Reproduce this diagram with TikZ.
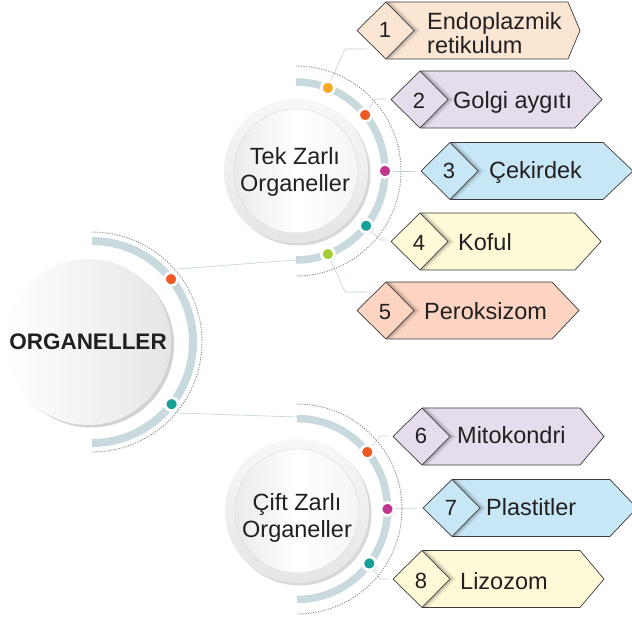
\documentclass[tikz,border=0pt]{standalone}
\usepackage{fontspec}
\setmainfont{Liberation Sans}
\usetikzlibrary{shadows,calc}
\definecolor{txt}{HTML}{231F20}
\definecolor{bandc}{HTML}{C9DADE}
\definecolor{connc}{HTML}{C2D3D8}
\definecolor{dotline}{HTML}{8E8E8E}
\definecolor{boxline}{HTML}{3C3C3C}
\definecolor{cPeach}{HTML}{FBE6D4}
\definecolor{cLav}{HTML}{E5DCEC}
\definecolor{cBlue}{HTML}{C7E7F7}
\definecolor{cYel}{HTML}{FEF9D6}
\definecolor{cSal}{HTML}{FCD4C1}
\definecolor{dOrY}{HTML}{F7A823}
\definecolor{dOr}{HTML}{EF5A24}
\definecolor{dMag}{HTML}{C1358E}
\definecolor{dTeal}{HTML}{17A096}
\definecolor{dLime}{HTML}{A6CE39}
\tikzset{
  band/.style={draw=bandc, line width=7.5pt},
  dotarc/.style={draw=dotline, line width=0.9pt, dash pattern=on 1.2pt off 1.3pt},
  conn/.style={draw=connc, line width=0.6pt},
  dotnode/.style={circle, draw=white, line width=2.8pt, minimum size=13pt, inner sep=0pt,
     drop shadow={shadow xshift=1.4pt, shadow yshift=-1.4pt, opacity=0.35}},
  numtext/.style={text=txt, font=\fontsize{22}{24}\selectfont, inner sep=0pt, anchor=base},
  labtext/.style={text=txt, font=\fontsize{23.5}{24}\selectfont, inner sep=0pt, anchor=base west},
  circtext/.style={text=txt, font=\fontsize{23.5}{27}\selectfont, inner sep=0pt, align=center},
  ringdisk/.style={circle, minimum size=144pt, inner sep=0pt, top color=gray!6, bottom color=gray!20,
     drop shadow={shadow xshift=2.5pt, shadow yshift=-2.5pt, opacity=0.3}},
  innerdisk/.style={circle, minimum size=124pt, inner sep=0pt, left color=gray!16, right color=gray!8,
     middle color=white, draw=gray!30, line width=0.4pt}
}
% #1 name, #2 tip x, #3 mid y, #4 right corner x, #5 right tip x, #6 colour, #7 number, #8 number baseline
\newcommand\orgbox[8]{%
  \fill[#6] (#2,#3) -- ({#2+29},{#3-28.5}) -- (#4,{#3-28.5}) -- (#5,#3) -- (#4,{#3+28.5}) -- ({#2+29},{#3+28.5}) -- cycle;
  \begin{scope}
    \clip (#2,#3) -- ({#2+29},{#3-28.5}) -- (#4,{#3-28.5}) -- (#5,#3) -- (#4,{#3+28.5}) -- ({#2+29},{#3+28.5}) -- cycle;
    \foreach \k/\o in {1/0.16,2/0.12,3/0.09,4/0.06,5/0.04,6/0.02}
      \draw[black, opacity=\o, line width=1.1pt] ({#2+29+\k},{#3-28.5}) -- ({#2+57+\k},#3) -- ({#2+29+\k},{#3+28.5});
  \end{scope}
  \draw[boxline, line width=0.7pt, line join=round] (#2,#3) -- ({#2+29},{#3-28.5}) -- (#4,{#3-28.5}) -- (#5,#3) -- (#4,{#3+28.5}) -- ({#2+29},{#3+28.5}) -- cycle;
  \draw[boxline, line width=0.7pt] ({#2+29},{#3-28.5}) -- ({#2+57},#3) -- ({#2+29},{#3+28.5});
  \node[numtext] (#1n) at ({#2+28},#8) {#7};
}
\begin{document}
\begin{tikzpicture}[x=1pt,y=-1pt]
\useasboundingbox[fill=white] (0,0) rectangle (632,617);

% centres
\coordinate (mainc) at (92,342);
\coordinate (tekc) at (296,171);
\coordinate (ciftc) at (297,509);

% dot positions
\coordinate (m1) at ($(mainc)+(38.5:101pt)$);
\coordinate (m2) at ($(mainc)+(-38:101pt)$);
\coordinate (t1) at ($(tekc)+(69:89pt)$);
\coordinate (t2) at ($(tekc)+(39:89pt)$);
\coordinate (t3) at ($(tekc)+(0:89pt)$);
\coordinate (t4) at ($(tekc)+(-38:89pt)$);
\coordinate (t5) at ($(tekc)+(-69:89pt)$);
\coordinate (c1) at ($(ciftc)+(39:90.5pt)$);
\coordinate (c2) at ($(ciftc)+(0:90.5pt)$);
\coordinate (c3) at ($(ciftc)+(-37:90.5pt)$);

% connector end points
\coordinate (mt) at (177,269);
\coordinate (tekend) at (296,260);
\coordinate (mb) at (176,413);
\coordinate (cifttop) at (297,417);
\coordinate (k1) at (345,49);   \coordinate (e1) at (367,49);
\coordinate (k2) at (375,99);   \coordinate (e2) at (385,99);
\coordinate (e3) at (415,171);
\coordinate (k4) at (380,240);  \coordinate (e4) at (387,240);
\coordinate (k5) at (345,292);  \coordinate (e5) at (367,292);
\coordinate (k6) at (380,436);  \coordinate (e6) at (388,436);
\coordinate (e7) at (417,508);
\coordinate (k8) at (380,579);  \coordinate (e8) at (388,579);

% connectors
\draw[conn] (mt) -- (tekend);
\draw[conn] (mb) -- (cifttop);
\draw[conn] (t1) -- (k1) -- (e1);
\draw[conn] (t2) -- (k2) -- (e2);
\draw[conn] (t3) -- (e3);
\draw[conn] (t4) -- (k4) -- (e4);
\draw[conn] (t5) -- (k5) -- (e5);
\draw[conn] (c1) -- (k6) -- (e6);
\draw[conn] (c2) -- (e7);
\draw[conn] (c3) -- (k8) -- (e8);

% dotted arcs
\draw[dotarc] ($(mainc)+(90:110pt)$) arc[start angle=90, end angle=-90, radius=110pt];
\draw[dotarc] ($(tekc)+(90:105pt)$) arc[start angle=90, end angle=-90, radius=105pt];
\draw[dotarc] ($(ciftc)+(90:105pt)$) arc[start angle=90, end angle=-90, radius=105pt];

% bands
\draw[band, line width=8pt] ($(mainc)+(90:101pt)$) arc[start angle=90, end angle=-90, radius=101pt];
\draw[band] ($(tekc)+(90:89pt)$) arc[start angle=90, end angle=-90, radius=89pt];
\draw[band] ($(ciftc)+(90:90.5pt)$) arc[start angle=90, end angle=-90, radius=90.5pt];

% main circle
\node[circle, minimum size=166pt, inner sep=0pt, left color=white, middle color=gray!4, right color=gray!20,
      drop shadow={shadow xshift=3pt, shadow yshift=-2.5pt, opacity=0.35}] (main) at (88,342) {};
\node[text=txt, font=\bfseries\fontsize{22.5}{24}\selectfont, inner sep=0pt] (maintext) at (88,341.5) {ORGANELLER};

% Tek Zarli circle
\node[ringdisk] (tekring) at (tekc) {};
\node[innerdisk] (tek) at (tekc) {};
\node[circtext] (tektext) at (295,171.5) {Tek Zarlı\\Organeller};

% Cift Zarli circle
\node[ringdisk] (ciftring) at (297,511) {};
\node[innerdisk] (cift) at (297,511) {};
\node[circtext] (cifttext) at (297,517.5) {Çift Zarlı\\Organeller};

% dots
\node[dotnode, fill=dOr] (m1d) at (m1) {};
\node[dotnode, fill=dTeal] (m2d) at (m2) {};
\node[dotnode, fill=dOrY] (t1d) at (t1) {};
\node[dotnode, fill=dOr] (t2d) at (t2) {};
\node[dotnode, fill=dMag] (t3d) at (t3) {};
\node[dotnode, fill=dTeal] (t4d) at (t4) {};
\node[dotnode, fill=dLime] (t5d) at (t5) {};
\node[dotnode, fill=dOr] (c1d) at (c1) {};
\node[dotnode, fill=dMag] (c2d) at (c2) {};
\node[dotnode, fill=dTeal] (c3d) at (c3) {};

% boxes
\orgbox{b1}{357}{30.5}{568}{580}{cPeach}{1}{38}
\orgbox{b2}{391}{99.5}{575}{602}{cLav}{2}{108.5}
\orgbox{b3}{421}{171}{603}{633}{cBlue}{3}{178.5}
\orgbox{b4}{391}{241.5}{575}{601}{cYel}{4}{250.5}
\orgbox{b5}{357}{310.5}{552}{579}{cSal}{5}{319.5}
\orgbox{b6}{393}{436.5}{580}{604}{cLav}{6}{444}
\orgbox{b7}{423}{508}{610}{637}{cBlue}{7}{515.5}
\orgbox{b8}{393}{579}{580}{604}{cYel}{8}{588.5}

% labels
\node[text=txt, font=\fontsize{23.5}{24}\selectfont, inner sep=0pt, anchor=west, align=left] (b1t) at (427,33) {Endoplazmik\\retikulum};
\node[labtext] (b2t) at (453,109) {Golgi aygıtı};
\node[labtext] (b3t) at (489,178.5) {Çekirdek};
\node[labtext] (b4t) at (458,251) {Koful};
\node[labtext] (b5t) at (424,320) {Peroksizom};
\node[labtext] (b6t) at (457,443.5) {Mitokondri};
\node[labtext] (b7t) at (486,515) {Plastitler};
\node[labtext] (b8t) at (460,589) {Lizozom};
\end{tikzpicture}
\end{document}
